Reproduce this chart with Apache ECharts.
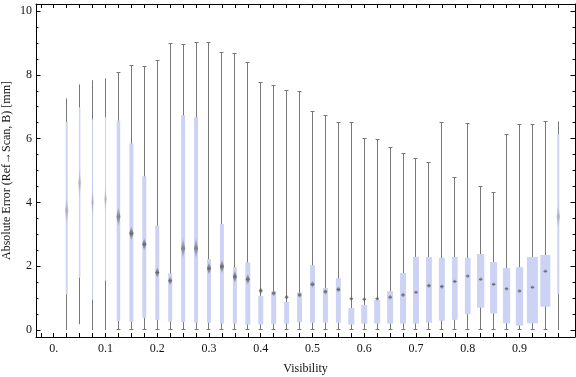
<!DOCTYPE html>
<html>
<head>
<meta charset="utf-8">
<script src="https://cdn.jsdelivr.net/npm/echarts@6/dist/echarts.min.js"></script>
<style>
  html, body { margin: 0; padding: 0; background: #fff; }
  #chart { width: 576px; height: 377px; }
</style>
</head>
<body>
<div id="chart"></div>
<script>
// ---- data ----
const visibility = [0.025, 0.05, 0.075, 0.1, 0.125, 0.15, 0.175, 0.2, 0.225, 0.25,
  0.275, 0.3, 0.325, 0.35, 0.375, 0.4, 0.425, 0.45, 0.475, 0.5,
  0.525, 0.55, 0.575, 0.6, 0.625, 0.65, 0.675, 0.7, 0.725, 0.75,
  0.775, 0.8, 0.825, 0.85, 0.875, 0.9, 0.925, 0.95, 0.975];
const whiskerMin = [0, 0.18, 0, 0, 0, 0, 0, 0, 0, 0,
  0, 0, 0, 0, 0, 0, 0, 0, 0, 0,
  0, 0, 0, 0, 0, 0, 0, 0, 0, 0,
  0, 0, 0, 0, 0, 0, 0, 0, 0];
const q1 = [1.11, 1.64, 0.95, 1.54, 0.28, 0.25, 0.38, 0.31, 0.26, 0.25,
  0.23, 0.23, 0.20, 0.20, 0.17, 0.17, 0.18, 0.20, 0.24, 0.23,
  0.23, 0.23, 0.17, 0.20, 0.20, 0.20, 0.20, 0.20, 0.23, 0.29,
  0.32, 0.49, 0.70, 0.52, 0.21, 0.14, 0.21, 0.73, 1.13];
const median = [3.74, 4.6, 4.0, 4.1, 3.55, 3.03, 2.69, 1.80, 1.54, 2.56,
  2.56, 1.93, 1.99, 1.67, 1.59, 1.23, 1.15, 1.03, 1.10, 1.43,
  1.20, 1.27, 0.98, 0.96, 0.98, 1.03, 1.10, 1.18, 1.39, 1.36,
  1.52, 1.69, 1.59, 1.43, 1.29, 1.22, 1.34, 1.84, 3.55];
const q3 = [6.52, 6.98, 6.61, 6.68, 6.57, 5.85, 4.82, 3.28, 1.78, 6.73,
  6.67, 2.22, 3.32, 1.97, 2.12, 1.07, 1.22, 0.88, 1.18, 2.03,
  1.32, 1.62, 0.69, 0.78, 0.94, 1.22, 1.79, 2.29, 2.29, 2.26,
  2.29, 2.26, 2.38, 2.13, 1.94, 1.97, 2.29, 2.35, 6.14];
const whiskerMax = [7.26, 7.70, 7.83, 7.89, 8.08, 8.29, 8.27, 8.45, 8.99, 8.96,
  9.01, 9.01, 8.70, 8.67, 8.39, 7.76, 7.67, 7.51, 7.48, 6.85,
  6.73, 6.51, 6.51, 6.01, 5.98, 5.73, 5.54, 5.38, 5.26, 6.51,
  4.79, 6.48, 4.50, 4.32, 6.13, 6.45, 6.45, 6.54, 6.54];
const xTickValues = [-0.025, 0, 0.025, 0.05, 0.075, 0.1, 0.125, 0.15, 0.175, 0.2, 0.225, 0.25,
  0.275, 0.3, 0.325, 0.35, 0.375, 0.4, 0.425, 0.45, 0.475, 0.5,
  0.525, 0.55, 0.575, 0.6, 0.625, 0.65, 0.675, 0.7, 0.725, 0.75,
  0.775, 0.8, 0.825, 0.85, 0.875, 0.9, 0.925, 0.95, 0.975];
const xLabelValues = [0, 0.1, 0.2, 0.3, 0.4, 0.5, 0.6, 0.7, 0.8, 0.9];
const yMajorTicks = [0, 2, 4, 6, 8, 10];
const yMinorTicks = [0.5, 1, 1.5, 2.5, 3, 3.5, 4.5, 5, 5.5, 6.5, 7, 7.5, 8.5, 9, 9.5];

// ---- style (not data) ----
const boxWidthPx = [2, 1.5, 1, 1, 3.5, 4, 4, 4, 4, 4,
  4, 4, 4, 4, 5, 5, 5, 5, 5, 5,
  5, 5, 6, 6, 6, 6, 6, 6, 6, 6,
  5.7, 5.7, 7.3, 7, 7.3, 7.3, 11, 10, 2];
const medianMarkPx = [30, 30, 30, 28, 22, 16, 14, 12, 10, 22,
  22, 14, 15, 14, 12, 8, 7, 6, 7, 8,
  7, 7, 5, 5, 5, 6, 6, 5, 6, 6,
  5, 5, 5, 5, 5, 5, 5, 5, 25];
const boxColor = '#cdd3f4';
const whiskerColor = '#777777';
const FONT = '"Liberation Serif", "DejaVu Serif", serif';

const rows = visibility.map((v, i) => [v, whiskerMin[i], q1[i], median[i], q3[i], whiskerMax[i]]);

function renderItem(params, api) {
  const i = params.dataIndex;
  const x = api.value(0);
  const pMin = api.coord([x, api.value(1)]);
  const pQ1 = api.coord([x, api.value(2)]);
  const pMed = api.coord([x, api.value(3)]);
  const pQ3 = api.coord([x, api.value(4)]);
  const pMax = api.coord([x, api.value(5)]);
  const cx = pMax[0];
  const lx = Math.round(cx - 0.5) + 0.5;
  const w = boxWidthPx[i];
  const children = [];
  children.push({ type: 'line', shape: { x1: lx, y1: pMax[1], x2: lx, y2: pMin[1] },
    style: { stroke: whiskerColor, lineWidth: 1 } });
  if (w >= 3) {
    [pMax[1], pMin[1]].forEach(yy => {
      const y0 = Math.round(yy - 0.5) + 0.5;
      children.push({ type: 'line', shape: { x1: lx - 2, y1: y0, x2: lx + 2, y2: y0 },
        style: { stroke: whiskerColor, lineWidth: 1 } });
    });
  }
  children.push({ type: 'rect', shape: { x: cx - w / 2, y: pQ3[1], width: w, height: pQ1[1] - pQ3[1] },
    style: { fill: boxColor } });
  const mh = medianMarkPx[i];
  const mw = Math.min(4, w + 1.5);
  const a = w < 3 ? 0.3 : (mh > 18 ? 0.65 : 0.85);
  children.push({ type: 'polygon',
    shape: { points: [[cx, pMed[1] - mh / 2], [cx + mw / 2, pMed[1]], [cx, pMed[1] + mh / 2], [cx - mw / 2, pMed[1]]] },
    style: { fill: { type: 'linear', x: 0, y: 0, x2: 0, y2: 1, colorStops: [
      { offset: 0, color: 'rgba(85,85,85,0)' },
      { offset: 0.3, color: 'rgba(85,85,85,' + (a * 0.6) + ')' },
      { offset: 0.5, color: 'rgba(85,85,85,' + a + ')' },
      { offset: 0.7, color: 'rgba(85,85,85,' + (a * 0.6) + ')' },
      { offset: 1, color: 'rgba(85,85,85,0)' } ] } } });
  return { type: 'group', children };
}

const XMIN = -0.0343, XMAX = 1.0073, YMIN = -0.22, YMAX = 10.22;
const lineStyle = { color: '#000', width: 1 };
const labelStyle = { fontFamily: FONT, fontSize: 12, color: '#111' };

function xAx(pos, withLabels) {
  return {
    type: 'value', position: pos, min: XMIN, max: XMAX,
    axisLine: { show: true, onZero: false, lineStyle },
    axisTick: { show: true, inside: true, length: 4, customValues: xTickValues, lineStyle },
    axisLabel: withLabels ? Object.assign({ show: true, margin: 6, customValues: xLabelValues,
      formatter: v => (Math.abs(v) < 1e-9 ? '0.' : (+v).toFixed(1)) }, labelStyle) : { show: false },
    splitLine: { show: false },
    name: withLabels ? 'Visibility' : '', nameLocation: 'middle', nameGap: 26, nameMoveOverlap: false,
    nameTextStyle: { fontFamily: FONT, fontSize: 12, color: '#111' }
  };
}
function yAx(pos, ticks, len, withLabels, withLine) {
  return {
    type: 'value', position: pos, min: YMIN, max: YMAX,
    axisLine: { show: withLine, onZero: false, lineStyle },
    axisTick: { show: true, inside: true, length: len, customValues: ticks, lineStyle },
    axisLabel: withLabels ? Object.assign({ show: true, margin: 4, customValues: yMajorTicks }, labelStyle) : { show: false },
    splitLine: { show: false },
    name: withLabels ? 'Absolute Error (Ref\u2192Scan, B) [mm]' : '',
    nameLocation: 'middle', nameGap: 23, nameRotate: 90, nameMoveOverlap: false,
    nameTextStyle: { fontFamily: FONT, fontSize: 12, color: '#111' }
  };
}

const chart = echarts.init(document.getElementById('chart'), null, { renderer: 'canvas' });
chart.setOption({
  animation: false,
  backgroundColor: '#fff',
  grid: { left: 36, right: 1, top: 4, bottom: 40, containLabel: false, outerBoundsMode: 'none' },
  xAxis: [xAx('bottom', true), xAx('top', false)],
  yAxis: [
    yAx('left', yMajorTicks, 4.5, true, true),
    yAx('left', yMinorTicks, 2.5, false, false),
    yAx('right', yMajorTicks, 4.5, false, true),
    yAx('right', yMinorTicks, 2.5, false, false)
  ],
  series: [{
    type: 'custom', xAxisIndex: 0, yAxisIndex: 0,
    renderItem, data: rows, encode: { x: 0, y: [1, 2, 3, 4, 5] }, silent: true
  }]
});
</script>
</body>
</html>
